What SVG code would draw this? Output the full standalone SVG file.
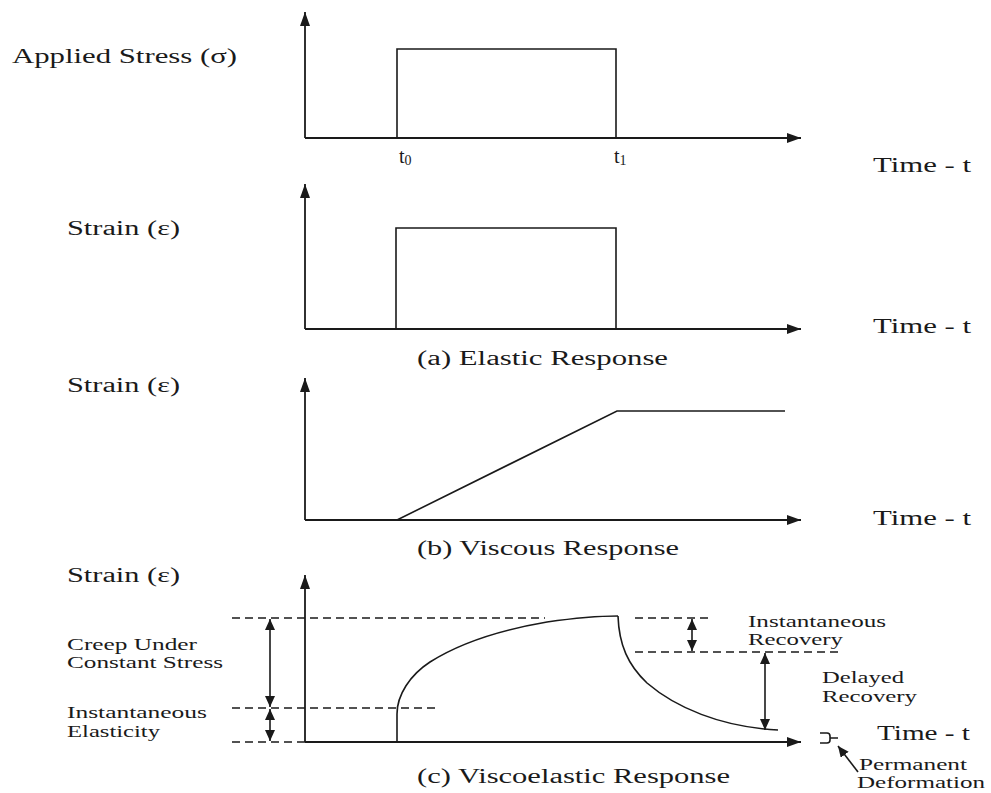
<svg xmlns="http://www.w3.org/2000/svg" width="991" height="793" viewBox="0 0 991 793">
<style>
.ax{fill:none;stroke:#1a1a1a;stroke-width:1.8}
.cv{fill:none;stroke:#1a1a1a;stroke-width:1.6}
.ds{fill:none;stroke:#1a1a1a;stroke-width:1.4;stroke-dasharray:8,5}
.dim{fill:none;stroke:#1a1a1a;stroke-width:1.6}
.t{font-family:"Liberation Serif","Times New Roman",serif;font-size:20px;fill:#1a1a1a}
.s{font-family:"Liberation Serif","Times New Roman",serif;font-size:16px;fill:#1a1a1a}
</style>
<defs>
<marker id="ah" markerUnits="userSpaceOnUse" markerWidth="14" markerHeight="10" refX="14" refY="5" orient="auto"><path d="M0,0 L14,5 L0,10 z" fill="#1a1a1a"/></marker>
<marker id="dh" markerUnits="userSpaceOnUse" markerWidth="11" markerHeight="10" refX="11" refY="5" orient="auto-start-reverse"><path d="M0,0 L11,5 L0,10 z" fill="#1a1a1a"/></marker>
</defs>
<rect width="991" height="793" fill="#ffffff"/>

<g id="connectors">
<!-- panel 1 axes -->
<line class="ax" x1="305" y1="138" x2="305" y2="12" marker-end="url(#ah)"/>
<line class="ax" x1="305" y1="138" x2="801" y2="138" marker-end="url(#ah)"/>
<!-- panel 2 axes -->
<line class="ax" x1="305" y1="329" x2="305" y2="184" marker-end="url(#ah)"/>
<line class="ax" x1="305" y1="329" x2="801" y2="329" marker-end="url(#ah)"/>
<!-- panel 3 axes -->
<line class="ax" x1="305" y1="520" x2="305" y2="378" marker-end="url(#ah)"/>
<line class="ax" x1="305" y1="520" x2="801" y2="520" marker-end="url(#ah)"/>
<!-- panel 4 axes -->
<line class="ax" x1="305" y1="742" x2="305" y2="575" marker-end="url(#ah)"/>
<line class="ax" x1="305" y1="742" x2="801" y2="742" marker-end="url(#ah)"/>
<!-- dimension arrows -->
<line class="dim" x1="270" y1="619" x2="270" y2="707" marker-start="url(#dh)" marker-end="url(#dh)"/>
<line class="dim" x1="270" y1="709" x2="270" y2="741" marker-start="url(#dh)" marker-end="url(#dh)"/>
<line class="dim" x1="692" y1="619" x2="692" y2="651" marker-start="url(#dh)" marker-end="url(#dh)"/>
<line class="dim" x1="765" y1="653" x2="765" y2="730" marker-start="url(#dh)" marker-end="url(#dh)"/>
<line class="dim" x1="858" y1="772" x2="838" y2="746" marker-end="url(#dh)"/>
</g>

<g id="panel-stress">
<polyline class="cv" points="397,138 397,49 616,49 616,138"/>
<text class="t" x="12" y="63" textLength="225" lengthAdjust="spacingAndGlyphs">Applied Stress (σ)</text>
<text class="t" x="399" y="163">t<tspan font-size="14" dy="2">0</tspan></text>
<text class="t" x="614" y="163">t<tspan font-size="14" dy="2">1</tspan></text>
<text class="t" x="873" y="172" textLength="98" lengthAdjust="spacingAndGlyphs">Time - t</text>
</g>

<g id="panel-elastic">
<polyline class="cv" points="396,329 396,228 616,228 616,329"/>
<text class="t" x="67" y="235" textLength="113" lengthAdjust="spacingAndGlyphs">Strain (ε)</text>
<text class="t" x="873" y="333" textLength="98" lengthAdjust="spacingAndGlyphs">Time - t</text>
<text class="t" x="417" y="365" textLength="251" lengthAdjust="spacingAndGlyphs">(a) Elastic Response</text>
</g>

<g id="panel-viscous">
<polyline class="cv" points="397,520 617,411 785,411"/>
<text class="t" x="67" y="392" textLength="113" lengthAdjust="spacingAndGlyphs">Strain (ε)</text>
<text class="t" x="873" y="525" textLength="98" lengthAdjust="spacingAndGlyphs">Time - t</text>
<text class="t" x="417" y="555" textLength="262" lengthAdjust="spacingAndGlyphs">(b) Viscous Response</text>
</g>

<g id="panel-viscoelastic">
<line class="ds" x1="232" y1="618" x2="545" y2="618"/>
<line class="ds" x1="232" y1="708" x2="435" y2="708"/>
<line class="ds" x1="232" y1="742" x2="305" y2="742"/>
<line class="ds" x1="635" y1="618" x2="712" y2="618"/>
<line class="ds" x1="635" y1="652" x2="838" y2="652"/>
<path class="cv" d="M397,742 L397,714 C397,695 410,675 430,662 C460,643 500,630 547,622 C575,618 600,616 618,616"/>
<path class="cv" d="M618,616 C619,645 628,665 647,683 C675,707 720,727 778,730"/>
<path class="cv" d="M820,733 L827,733 Q830,733 830,736 L830,740 Q830,743 827,743 L820,743 M830,738 L838,738"/>
<text class="t" x="67" y="582" textLength="113" lengthAdjust="spacingAndGlyphs">Strain (ε)</text>
<text class="s" x="67" y="650" textLength="130" lengthAdjust="spacingAndGlyphs">Creep Under</text>
<text class="s" x="67" y="668" textLength="156" lengthAdjust="spacingAndGlyphs">Constant Stress</text>
<text class="s" x="67" y="718" textLength="140" lengthAdjust="spacingAndGlyphs">Instantaneous</text>
<text class="s" x="67" y="737" textLength="93" lengthAdjust="spacingAndGlyphs">Elasticity</text>
<text class="s" x="748" y="627" textLength="138" lengthAdjust="spacingAndGlyphs">Instantaneous</text>
<text class="s" x="748" y="645" textLength="95" lengthAdjust="spacingAndGlyphs">Recovery</text>
<text class="s" x="822" y="683" textLength="82" lengthAdjust="spacingAndGlyphs">Delayed</text>
<text class="s" x="822" y="702" textLength="95" lengthAdjust="spacingAndGlyphs">Recovery</text>
<text class="t" x="877" y="740" textLength="93" lengthAdjust="spacingAndGlyphs">Time - t</text>
<text class="s" x="859" y="770" textLength="108" lengthAdjust="spacingAndGlyphs">Permanent</text>
<text class="s" x="857" y="788" textLength="128" lengthAdjust="spacingAndGlyphs">Deformation</text>
<text class="t" x="417" y="783" textLength="313" lengthAdjust="spacingAndGlyphs">(c) Viscoelastic Response</text>
</g>
</svg>
